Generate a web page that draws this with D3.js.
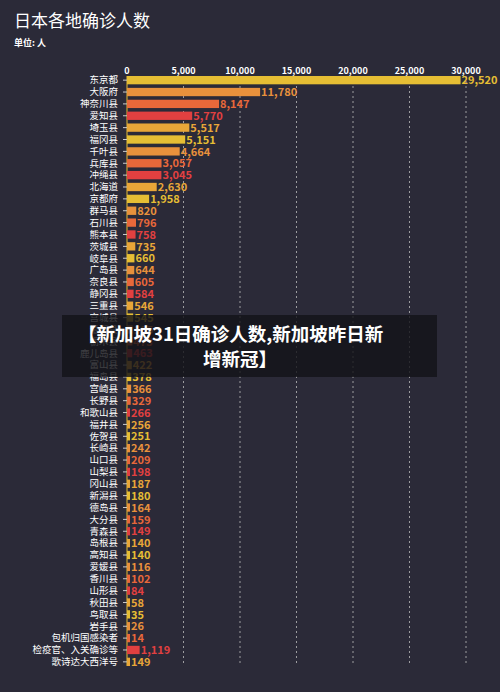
<!DOCTYPE html>
<html><head><meta charset="utf-8">
<script src="https://cdn.jsdelivr.net/npm/d3@7"></script>
<style>
body{margin:0;background:#2b2a38;}
text{font-family:"Noto Sans CJK SC","Noto Sans",sans-serif;}
</style></head>
<body><svg id="c" width="500" height="692"></svg>
<script>
const regions = ["东京都","大阪府","神奈川县","爱知县","埼玉县","福冈县","千叶县","兵库县","冲绳县","北海道","京都府","群马县","石川县","熊本县","茨城县","岐阜县","广岛县","奈良县","静冈县","三重县","宫城县","滋贺县","栃木县","鹿儿岛县","富山县","福岛县","宫崎县","长野县","和歌山县","福井县","佐贺县","长崎县","山口县","山梨县","冈山县","新潟县","德岛县","大分县","青森县","岛根县","高知县","爱媛县","香川县","山形县","秋田县","鸟取县","岩手县","包机归国感染者","检疫官、入关确诊等","歌诗达大西洋号"];
const cases = [29520,11780,8147,5770,5517,5151,4664,3057,3045,2630,1958,820,796,758,735,660,644,605,584,546,545,505,473,463,422,378,366,329,266,256,251,242,209,198,187,180,164,159,149,140,140,116,102,84,58,35,26,14,1119,149];
const xTicks = [0,5000,10000,15000,20000,25000,30000];
const palette = ["#e6be34","#e8913c","#e8683a","#e24040","#e8a638"];

const svg = d3.select("#c");
svg.append("text").attr("x",14).attr("y",27).attr("fill","#fff").attr("font-size",17).text("日本各地确诊人数");
svg.append("text").attr("x",14).attr("y",46).attr("fill","#fff").attr("font-size",9).attr("font-weight","bold").text("单位: 人");

const x = d3.scaleLinear().domain([0,30000]).range([127,466]);
const y = d3.scaleBand().domain(regions).range([76,666]).paddingInner(0.3);

svg.append("g").selectAll("line").data(xTicks.slice(1)).join("line")
  .attr("x1",d=>x(d)).attr("x2",d=>x(d)).attr("y1",76).attr("y2",666)
  .attr("stroke","#bbb").attr("stroke-dasharray","2,3").attr("stroke-width",0.8);
svg.append("g").selectAll("text").data(xTicks).join("text")
  .attr("x",d=>x(d)).attr("y",74).attr("text-anchor","middle").attr("fill","#fff")
  .attr("font-size",9).attr("font-weight","bold").text(d3.format(","));

svg.append("line").attr("x1",x(0)).attr("x2",x(0)).attr("y1",76).attr("y2",666).attr("stroke","#e6be34").attr("stroke-width",1);

svg.append("g").selectAll("text").data(regions).join("text")
  .attr("x",x(0)-9).attr("y",d=>y(d)+y.bandwidth()/2).attr("dy","0.35em")
  .attr("text-anchor","end").attr("fill","#fff").attr("font-size",9.5).text(d=>d);
svg.append("g").selectAll("line").data(regions).join("line")
  .attr("x1",x(0)-4).attr("x2",x(0)).attr("y1",d=>y(d)+y.bandwidth()/2).attr("y2",d=>y(d)+y.bandwidth()/2)
  .attr("stroke","#ccc");

svg.append("g").selectAll("rect").data(cases).join("rect")
  .attr("x",x(0)).attr("y",(d,i)=>y(regions[i])).attr("height",y.bandwidth())
  .attr("width",d=>Math.max(3,x(d)-x(0))).attr("fill",(d,i)=>palette[i%5]);
svg.append("g").selectAll("text").data(cases).join("text")
  .attr("x",d=>Math.max(x(0)+3,x(d))+1).attr("y",(d,i)=>y(regions[i])+y.bandwidth()/2).attr("dy","0.38em")
  .attr("fill",(d,i)=>palette[i%5]).attr("font-size",11).attr("font-weight","bold")
  .text(d3.format(","));

const ov = svg.append("g");
ov.append("rect").attr("x",62).attr("y",315).attr("width",375).attr("height",62).attr("fill","rgba(20,20,24,0.82)");
ov.append("text").attr("x",78).attr("y",341).attr("fill","#fff").attr("font-size",18.5).attr("font-weight","bold").text("【新加坡31日确诊人数,新加坡昨日新");
ov.append("text").attr("x",240).attr("y",366).attr("text-anchor","middle").attr("fill","#fff").attr("font-size",18.5).attr("font-weight","bold").text("增新冠】");
</script></body></html>
